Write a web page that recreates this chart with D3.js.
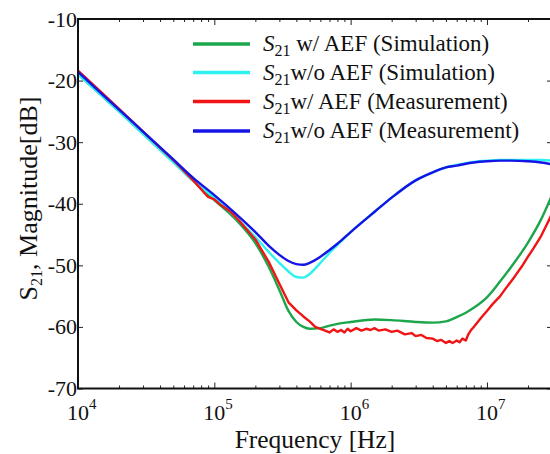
<!DOCTYPE html>
<html><head><meta charset="utf-8">
<script src="https://cdn.jsdelivr.net/npm/d3@7"></script>
<style>
body{margin:0;background:#fff}
svg{display:block}
text{font-family:"Liberation Serif","Times New Roman",serif;fill:#111}
</style>
</head><body>
<svg id="c" width="550" height="454"></svg>
<script>
// ---- data ----
const freqSim = [1e4,1.5e4,2e4,3e4,5e4,7e4,1e5,1.5e5,2e5,2.5e5,3e5,3.5e5,4e5,4.5e5,5e5,6e5,7e5,8e5,1e6,1.5e6,2e6,3e6,4e6,5e6,6e6,7e6,8e6,1e7,1.25e7,1.5e7,2e7,2.5e7,3e7];
const simWithAEF = [-19.0,-22.5,-25.0,-28.6,-33.1,-36.3,-39.4,-43.0,-46.4,-50.2,-54.0,-57.4,-59.2,-60.0,-60.3,-60.2,-59.8,-59.5,-59.2,-58.8,-58.9,-59.2,-59.3,-59.1,-58.4,-57.7,-56.9,-55.2,-52.6,-50.3,-46.3,-42.5,-38.6];
const simWithoutAEF = [-19.0,-22.5,-25.0,-28.7,-33.3,-36.3,-39.0,-42.6,-45.4,-47.8,-49.6,-51.0,-51.9,-52.0,-51.4,-49.6,-48.0,-46.7,-44.6,-41.3,-39.0,-36.2,-34.9,-34.1,-33.7,-33.4,-33.2,-33.0,-32.9,-32.9,-32.9,-32.9,-33.0];
const measWithoutAEF = [-18.6,-22.2,-24.7,-28.3,-32.8,-35.8,-38.6,-42.0,-44.6,-46.8,-48.3,-49.3,-49.8,-49.9,-49.6,-48.6,-47.5,-46.5,-44.6,-41.3,-39.0,-36.2,-34.9,-34.1,-33.8,-33.5,-33.3,-33.1,-33.0,-33.0,-33.1,-33.3,-33.6];
const freqMeasAEF = [1e4,1.5e4,2e4,3e4,5e4,7e4,9e4,1e5,1.1e5,1.3e5,1.5e5,2e5,2.5e5,3e5,3.5e5,4e5,4.5e5,5e5,5.5e5,6e5,6.5e5,7e5,7.5e5,8e5,8.5e5,9e5,9.5e5,1e6,1.1e6,1.2e6,1.3e6,1.4e6,1.5e6,1.6e6,1.8e6,2e6,2.2e6,2.5e6,2.8e6,3e6,3.3e6,3.6e6,4e6,4.3e6,4.6e6,5e6,5.3e6,5.6e6,6e6,6.3e6,6.6e6,7e6,7.3e6,7.6e6,8e6,8.5e6,9e6,1e7,1.1e7,1.25e7,1.4e7,1.6e7,1.8e7,2e7,2.2e7,2.5e7,2.8e7,3e7];
const measWithAEF = [-18.4,-22.0,-24.6,-28.3,-32.9,-36.2,-38.9,-39.3,-40.1,-41.2,-42.6,-45.8,-49.4,-53.0,-56.0,-57.3,-58.3,-59.1,-60.0,-60.3,-60.6,-60.9,-60.4,-60.8,-60.5,-60.9,-60.3,-60.7,-60.2,-60.6,-60.3,-60.5,-60.2,-60.6,-60.4,-60.8,-60.6,-61.2,-61.0,-61.5,-61.3,-61.8,-61.9,-62.3,-62.1,-62.6,-62.3,-62.6,-62.2,-62.5,-61.9,-62.2,-61.2,-60.6,-60.0,-59.3,-58.6,-57.4,-56.3,-55.0,-53.5,-51.8,-50.2,-48.6,-47.2,-45.2,-43.0,-41.6];
const yTickValues = [-70,-60,-50,-40,-30,-20,-10];
const xTickExponents = [4,5,6,7];
const legendLabels = [
  {sub:"21", rest:" w/ AEF (Simulation)"},
  {sub:"21", rest:"w/o AEF (Simulation)"},
  {sub:"21", rest:"w/ AEF (Measurement)"},
  {sub:"21", rest:"w/o AEF (Measurement)"}
];
const colors = ["#1ca64c","#2ef2f2","#f01414","#1414e6"];

// ---- layout ----
const L = 78, R = 552, T = 19, B = 388.5;
const svg = d3.select("#c");
const x = d3.scaleLog().domain([1e4, 3e7]).range([L, R]);
const y = d3.scaleLinear().domain([-70, -10]).range([B, T]);

svg.append("defs").append("clipPath").attr("id","clip")
  .append("rect").attr("x",L).attr("y",T).attr("width",R-L).attr("height",B-T);

// ticks
const majors = xTickExponents.map(e => Math.pow(10, e));
const minors = [];
for (let e = 4; e <= 7; e++) for (let k = 2; k <= 9; k++) { const v = k*Math.pow(10,e); if (v <= 3e7) minors.push(v); }

function styleAxis(g){ g.select(".domain").remove(); g.selectAll("line").attr("stroke","#222").attr("stroke-width",1); }
svg.append("g").attr("transform",`translate(0,${B})`).call(d3.axisBottom(x).tickValues(majors).tickSize(-6).tickFormat("")).call(styleAxis);
svg.append("g").attr("transform",`translate(0,${B})`).call(d3.axisBottom(x).tickValues(minors).tickSize(-3).tickFormat("")).call(styleAxis);
svg.append("g").attr("transform",`translate(0,${T})`).call(d3.axisTop(x).tickValues(majors).tickSize(-6).tickFormat("")).call(styleAxis);
svg.append("g").attr("transform",`translate(0,${T})`).call(d3.axisTop(x).tickValues(minors).tickSize(-3).tickFormat("")).call(styleAxis);
svg.append("g").attr("transform",`translate(${L},0)`).call(d3.axisLeft(y).tickValues(yTickValues).tickSize(-5).tickFormat("")).call(styleAxis);
svg.append("g").attr("transform",`translate(${R},0)`).call(d3.axisRight(y).tickValues(yTickValues).tickSize(-5).tickFormat("")).call(styleAxis);

// series
const line = d3.line().x(d => x(d[0])).y(d => y(d[1]));
const plot = svg.append("g").attr("clip-path","url(#clip)");
const series = [
  {f: freqSim, v: simWithAEF, c: colors[0], curve: d3.curveMonotoneX},
  {f: freqSim, v: simWithoutAEF, c: colors[1], curve: d3.curveMonotoneX},
  {f: freqMeasAEF, v: measWithAEF, c: colors[2], curve: d3.curveLinear},
  {f: freqSim, v: measWithoutAEF, c: colors[3], curve: d3.curveMonotoneX}
];
series.forEach(s => {
  plot.append("path").datum(s.f.map((f,i) => [f, s.v[i]]))
    .attr("fill","none").attr("stroke", s.c).attr("stroke-width", 2.4)
    .attr("stroke-linejoin","round")
    .attr("d", line.curve(s.curve));
});

// frame
svg.append("rect").attr("x",L).attr("y",T).attr("width",R-L).attr("height",B-T)
  .attr("fill","none").attr("stroke","#111").attr("stroke-width",2);

// y tick labels
svg.selectAll(".yl").data(yTickValues).join("text").attr("class","yl")
  .attr("x", L-1).attr("y", d => y(d)+7.5).attr("text-anchor","end")
  .attr("font-size",22).text(d => d);

// x tick labels
xTickExponents.forEach(e => {
  const px = x(Math.pow(10,e));
  svg.append("text").attr("x",px).attr("y",420).attr("text-anchor","middle").attr("font-size",22).text("10");
  svg.append("text").attr("x",px+11).attr("y",409).attr("font-size",15).text(e);
});

// axis titles
svg.append("text").attr("x",315).attr("y",448).attr("text-anchor","middle").attr("font-size",25.5).text("Frequency [Hz]");
const yt = svg.append("text").attr("transform","translate(37,198.5) rotate(-90)").attr("text-anchor","middle").attr("font-size",26);
yt.append("tspan").text("S");
yt.append("tspan").attr("font-size",16).attr("dy",5).text("21");
yt.append("tspan").attr("dy",-5).text(", Magnitude[dB]");

// legend
const rowsY = [44, 72.5, 101.5, 131];
legendLabels.forEach((lab,i) => {
  svg.append("line").attr("x1",193).attr("x2",250).attr("y1",rowsY[i]).attr("y2",rowsY[i])
    .attr("stroke",colors[i]).attr("stroke-width",3.5);
  const t = svg.append("text").attr("x",263).attr("y",rowsY[i]+7).attr("font-size",23);
  t.append("tspan").attr("font-style","italic").text("S");
  t.append("tspan").attr("font-size",16).attr("dy",5).text(lab.sub);
  t.append("tspan").attr("dy",-5).text(lab.rest);
});
</script>
</body></html>
